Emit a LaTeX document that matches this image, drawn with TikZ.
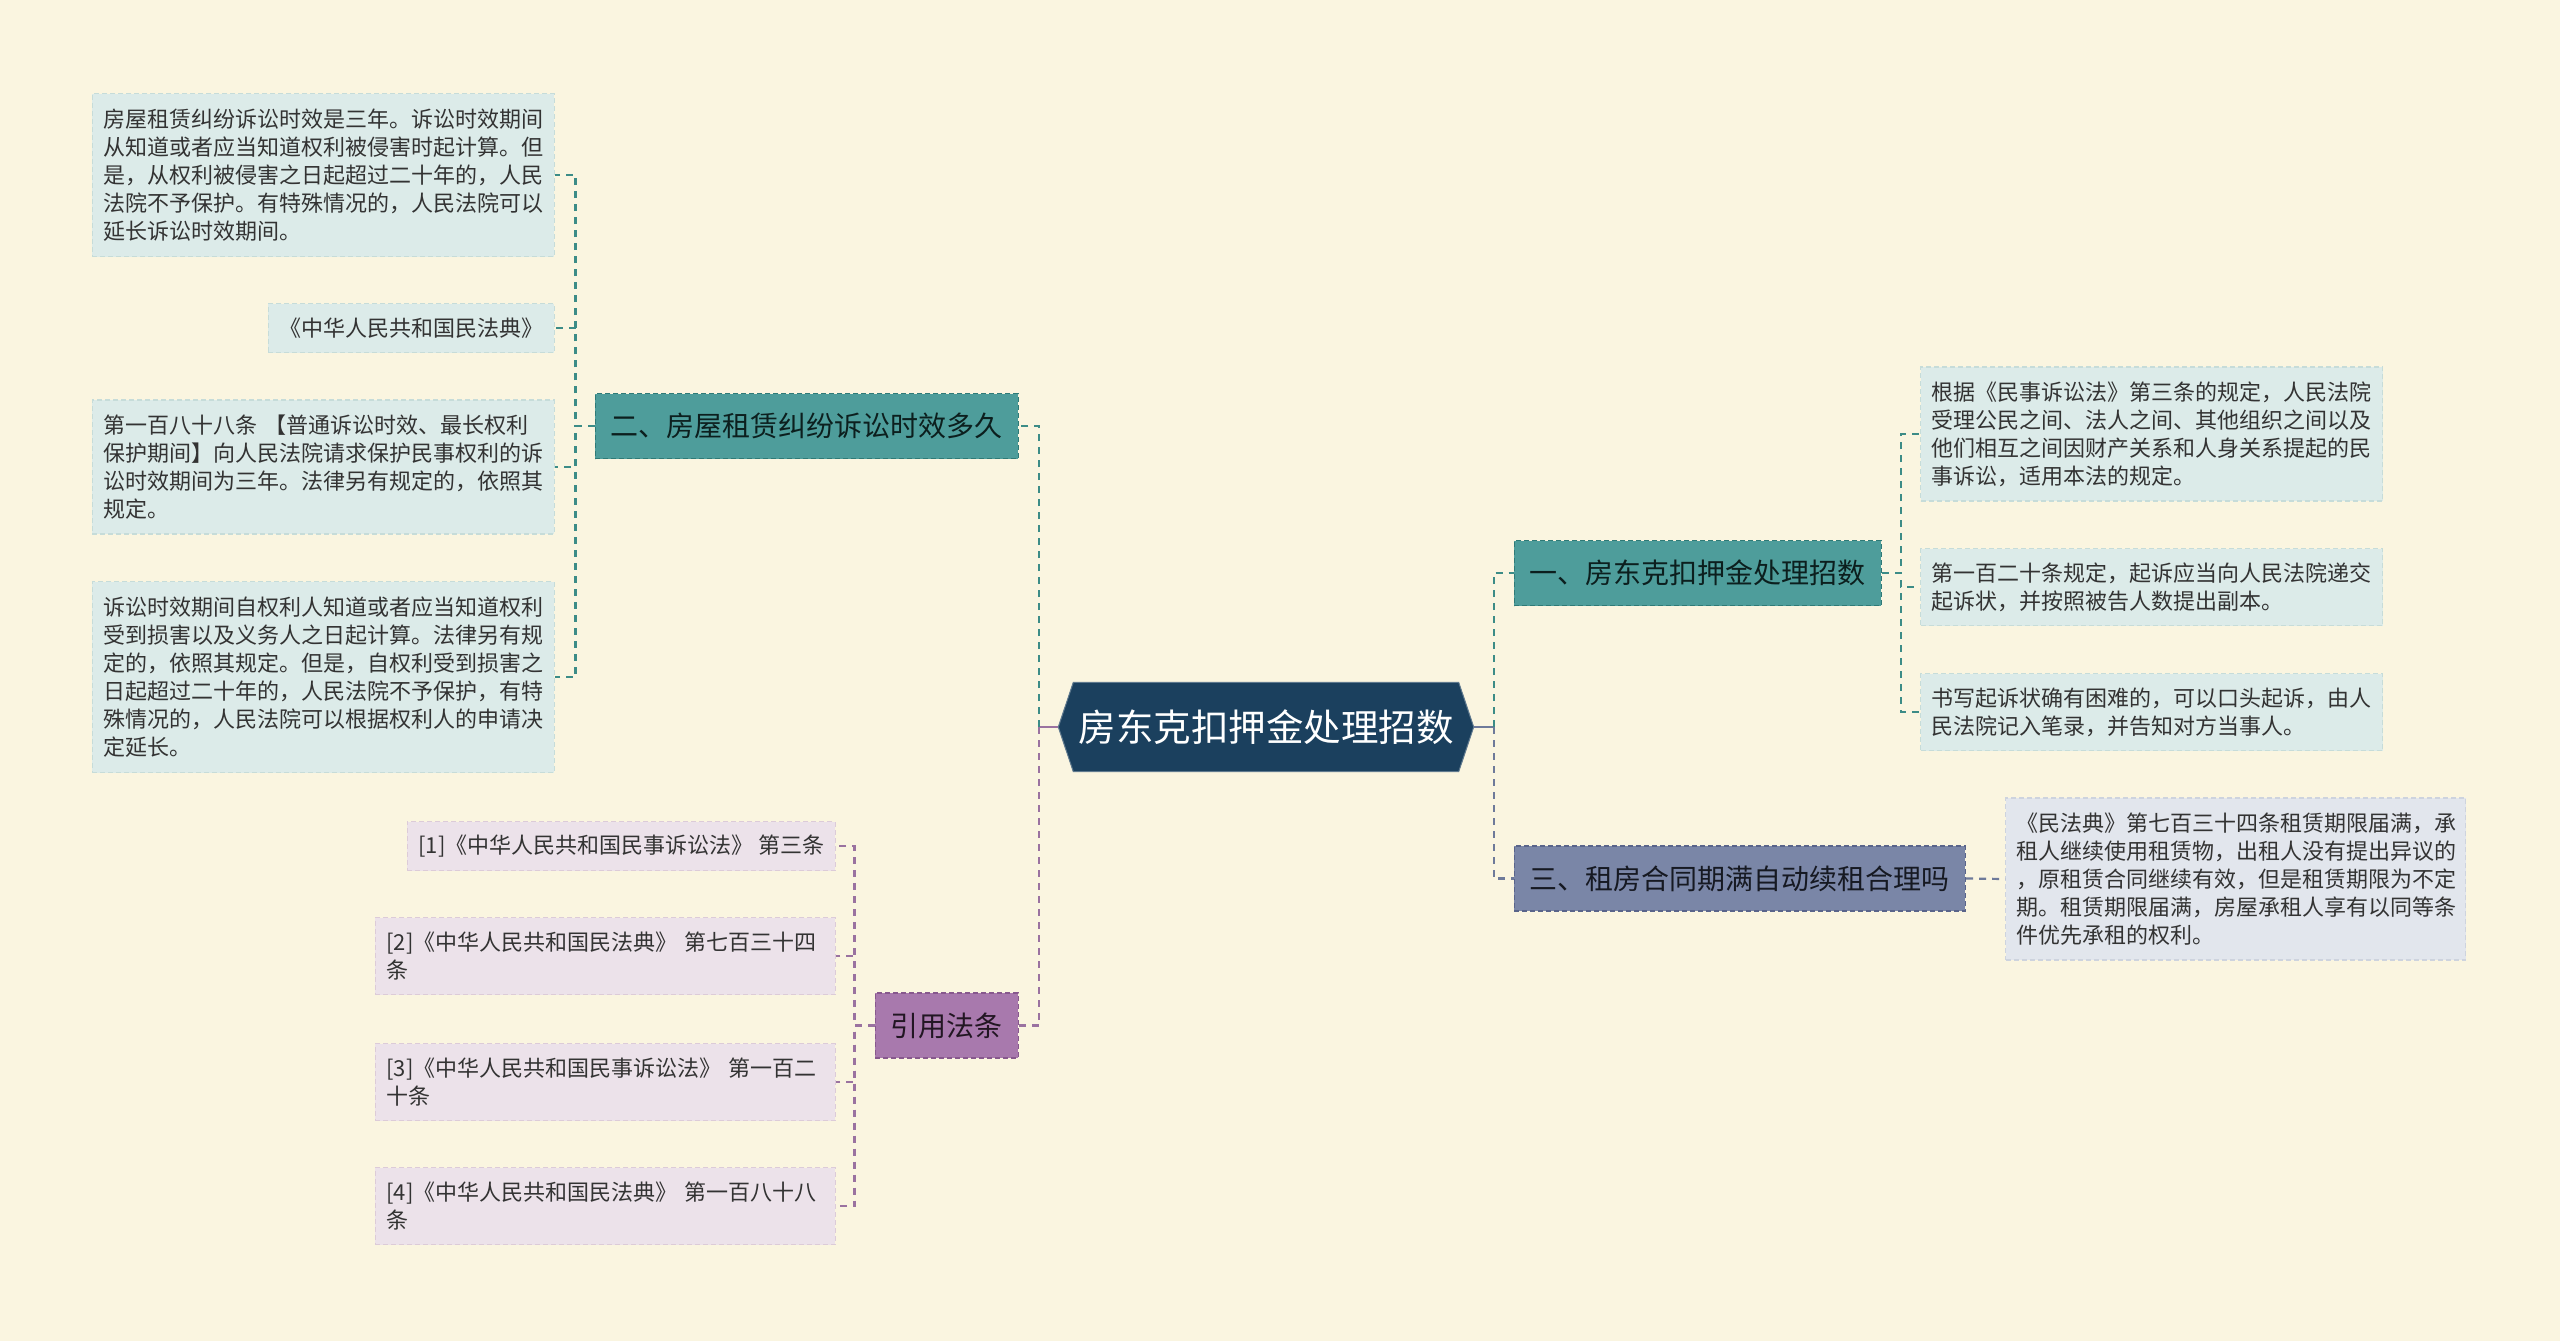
\documentclass[tikz,border=0pt]{standalone}
\usepackage{fontspec}
\setmainfont{Noto Sans CJK SC}
\usetikzlibrary{backgrounds,calc}
\definecolor{bgc}{HTML}{FAF5E0}
\definecolor{navy}{HTML}{1B405E}
\definecolor{tealf}{HTML}{4E9D9B}
\definecolor{teald}{HTML}{2F7A77}
\definecolor{tealc}{HTML}{3C8C87}
\definecolor{leafb}{HTML}{DCEBE9}
\definecolor{leafbd}{HTML}{C6DCD9}
\definecolor{slatef}{HTML}{7A86A7}
\definecolor{slated}{HTML}{59648A}
\definecolor{slatec}{HTML}{6E7A9A}
\definecolor{leafs}{HTML}{E2E6ED}
\definecolor{leafsd}{HTML}{CDD3DE}
\definecolor{purpf}{HTML}{A879AD}
\definecolor{purpd}{HTML}{87588D}
\definecolor{purpc}{HTML}{9A72A0}
\definecolor{leafp}{HTML}{ECE2EA}
\definecolor{leafpd}{HTML}{DCCBD8}
\definecolor{txt}{HTML}{333333}
\begin{document}
\begin{tikzpicture}[x=1pt,y=-1pt,
  conn/.style={line width=2.2pt, dash pattern=on 7pt off 6pt},
  tconn/.style={conn, draw=tealc},
  sconn/.style={conn, draw=slatec},
  pconn/.style={conn, draw=purpc},
  leafbox/.style={rectangle, line width=1.2pt, dash pattern=on 5pt off 3pt,
    inner xsep=11pt, inner ysep=0pt, align=left, text=txt,
    font=\fontsize{22pt}{28pt}\selectfont},
  tleaf/.style={leafbox, fill=leafb, draw=leafbd},
  sleaf/.style={leafbox, fill=leafs, draw=leafsd},
  pleaf/.style={leafbox, fill=leafp, draw=leafpd},
  branch/.style={rectangle, line width=1.5pt, dash pattern=on 5pt off 3pt,
    inner xsep=15.5pt, inner ysep=0pt, minimum height=65pt,
    font=\fontsize{28pt}{34pt}\selectfont},
  tbranch/.style={branch, fill=tealf, draw=teald, text=black!75!teald},
  sbranch/.style={branch, fill=slatef, draw=slated, text=black!75!slated},
  pbranch/.style={branch, fill=purpf, draw=purpd, text=black!75!purpd},
]
\useasboundingbox (0,0) rectangle (2560,1341);

% central topic
\node[minimum width=385pt, minimum height=89pt, inner sep=0pt, text=white,
  font=\fontsize{37.5pt}{44pt}\selectfont] (c) at (1266,727) {房东克扣押金处理招数};
\coordinate (cL) at ($(c.west)+(-15pt,0pt)$);
\coordinate (cR) at ($(c.east)+(15pt,0pt)$);
\begin{pgfonlayer}{background}
\fill[bgc] (0,0) rectangle (2560,1341);
\fill[navy, draw=navy!70!white, line width=1pt] (c.north west) -- (c.north east) -- (cR) -- (c.south east) -- (c.south west) -- (cL) -- cycle;
\end{pgfonlayer}
\coordinate (tL) at ($(cL)+(-19pt,0pt)$);
\coordinate (tR) at ($(cR)+(20pt,0pt)$);

% main branches
\node[tbranch, anchor=west] (b1) at (1513.5,573) {一、房东克扣押金处理招数};
\node[sbranch, anchor=west] (b3) at (1513.5,878.5) {三、租房合同期满自动续租合理吗};
\node[tbranch, anchor=east] (b2) at (1019,426) {二、房屋租赁纠纷诉讼时效多久};
\node[pbranch, anchor=east] (b4) at (1019,1025.5) {引用法条};

% right leaves
\node[tleaf, anchor=west, text width=440pt, minimum height=134pt] (r1) at (1920,434) {根据《民事诉讼法》第三条的规定，人民法院\\受理公民之间、法人之间、其他组织之间以及\\他们相互之间因财产关系和人身关系提起的民\\事诉讼，适用本法的规定。};
\node[tleaf, anchor=west, text width=440pt, minimum height=77pt] (r2) at (1920,587) {第一百二十条规定，起诉应当向人民法院递交\\起诉状，并按照被告人数提出副本。};
\node[tleaf, anchor=west, text width=440pt, minimum height=77pt] (r3) at (1920,712) {书写起诉状确有困难的，可以口头起诉，由人\\民法院记入笔录，并告知对方当事人。};
\node[sleaf, anchor=west, text width=438pt, minimum height=162pt] (r4) at (2005,879) {《民法典》第七百三十四条租赁期限届满，承\\租人继续使用租赁物，出租人没有提出异议的\\，原租赁合同继续有效，但是租赁期限为不定\\期。租赁期限届满，房屋承租人享有以同等条\\件优先承租的权利。};

% left leaves
\node[tleaf, anchor=east, text width=440pt, minimum height=163pt] (l1) at (555,175) {房屋租赁纠纷诉讼时效是三年。诉讼时效期间\\从知道或者应当知道权利被侵害时起计算。但\\是，从权利被侵害之日起超过二十年的，人民\\法院不予保护。有特殊情况的，人民法院可以\\延长诉讼时效期间。};
\node[tleaf, anchor=east, minimum height=49pt] (l2) at (555,328) {《中华人民共和国民法典》};
\node[tleaf, anchor=east, text width=440pt, minimum height=134pt] (l3) at (555,467) {第一百八十八条 【普通诉讼时效、最长权利\\保护期间】向人民法院请求保护民事权利的诉\\讼时效期间为三年。法律另有规定的，依照其\\规定。};
\node[tleaf, anchor=east, text width=440pt, minimum height=191pt] (l4) at (555,677) {诉讼时效期间自权利人知道或者应当知道权利\\受到损害以及义务人之日起计算。法律另有规\\定的，依照其规定。但是，自权利受到损害之\\日起超过二十年的，人民法院不予保护，有特\\殊情况的，人民法院可以根据权利人的申请决\\定延长。};

% references
\node[pleaf, anchor=east, minimum height=49pt] (f1) at (836,846) {[1]《中华人民共和国民事诉讼法》 第三条};
\node[pleaf, anchor=east, text width=438pt, minimum height=77pt] (f2) at (836,956) {[2]《中华人民共和国民法典》 第七百三十四\\条};
\node[pleaf, anchor=east, text width=438pt, minimum height=77pt] (f3) at (836,1082) {[3]《中华人民共和国民事诉讼法》 第一百二\\十条};
\node[pleaf, anchor=east, text width=438pt, minimum height=77pt] (f4) at (836,1206) {[4]《中华人民共和国民法典》 第一百八十八\\条};

% connectors
\draw[line width=2.2pt, purpc] (cL) -- (tL);
\draw[line width=2.2pt, slatec] (cR) -- (tR);
\draw[tconn] (tL) |- (b2.east);
\draw[pconn] (tL) |- (b4.east);
\draw[tconn] (tR) |- (b1.west);
\draw[sconn] (tR) |- (b3.west);
\draw[tconn] (b1.east) -- ++(19,0) |- (r1.west);
\draw[tconn] (b1.east) -- ++(19,0) |- (r2.west);
\draw[tconn] (b1.east) -- ++(19,0) |- (r3.west);
\draw[sconn] (b3.east) -- (r4.west);
\draw[tconn] (b2.west) -- ++(-19,0) |- (l1.east);
\draw[tconn] (b2.west) -- ++(-19,0) |- (l2.east);
\draw[tconn] (b2.west) -- ++(-19,0) |- (l3.east);
\draw[tconn] (b2.west) -- ++(-19,0) |- (l4.east);
\draw[pconn] (b4.west) -- ++(-20,0) |- (f1.east);
\draw[pconn] (b4.west) -- ++(-20,0) |- (f2.east);
\draw[pconn] (b4.west) -- ++(-20,0) |- (f3.east);
\draw[pconn] (b4.west) -- ++(-20,0) |- (f4.east);
\end{tikzpicture}
\end{document}
